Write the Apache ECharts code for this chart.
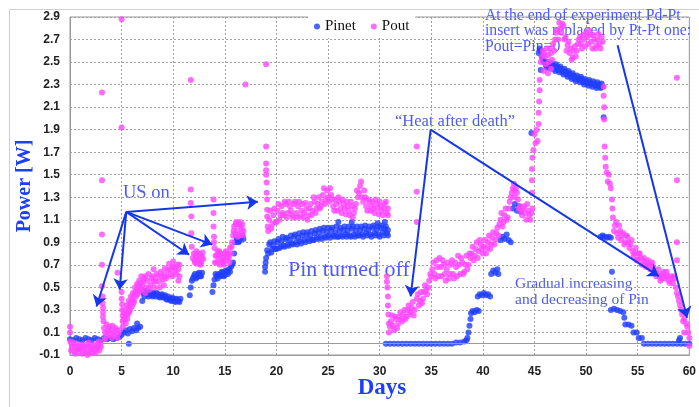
<!DOCTYPE html>
<html><head><meta charset="utf-8">
<script src="https://cdn.jsdelivr.net/npm/echarts@6/dist/echarts.min.js"></script>
<style>html,body{margin:0;padding:0;background:#fff}#c{width:699px;height:407px}</style>
</head><body><div id="c"></div>
<script>
const seriesNames = ['Pinet', 'Pout'];

// Pinet (blue) [day, W]
const pinet = [
 [0,0.04],[0.3,0.03],[0.6,0.05],[0.9,0.04],[1.2,0.03],[1.5,0.05],[1.8,0.04],[2.1,0.03],[2.4,0.05],[2.7,0.04],[3.0,0.03],[3.3,0.05],[3.6,0.04],[3.9,0.05],[4.2,0.04],[4.5,0.05],[4.8,0.06],
 [5.0,0.08],[5.2,0.1],[5.4,0.12],[5.6,0.09],[5.7,0.0],[5.8,0.13],[6.0,0.11],[6.2,0.14],[6.4,0.12],[6.5,0.18],[6.6,0.14],[6.8,0.15],
 [7.0,0.38],[7.1,0.45],[7.3,0.47],[7.5,0.44],[7.7,0.46],[7.9,0.43],[8.1,0.45],[8.3,0.42],[8.5,0.44],[8.7,0.41],[8.9,0.44],[9.1,0.42],[9.3,0.4],[9.5,0.42],[9.7,0.39],[9.9,0.41],[10.1,0.38],[10.3,0.4],[10.5,0.38],[10.7,0.4],
 [11.6,0.43],[11.7,0.5],[11.8,0.56],[12.0,0.6],[12.2,0.58],[12.4,0.62],[12.6,0.6],[12.8,0.63],
 [13.8,0.46],[13.9,0.52],[14.0,0.57],[14.2,0.6],[14.4,0.62],[14.6,0.6],[14.8,0.63],[15.0,0.61],[15.2,0.64],[15.4,0.66],[15.6,0.68],[15.8,0.72],[16.0,0.9],[16.2,0.93],[16.4,0.91],[16.6,0.95],[16.8,0.93],
 [18.9,0.64],[18.9,0.68],[18.95,0.72],[19.0,0.76],
 [19.1,0.83],[19.3,0.88],[19.5,0.81],[19.7,0.87],[19.9,0.84],[20.1,0.9],[20.3,0.85],[20.5,0.91],[20.7,0.87],[20.9,0.93],[21.1,0.88],[21.3,0.92],[21.5,0.89],[21.7,0.95],[21.9,0.9],[22.1,0.94],[22.3,0.91],[22.5,0.96],[22.7,0.92],[22.9,0.97],
 [23.1,0.93],[23.3,0.96],[23.5,0.92],[23.7,0.98],[23.9,0.94],[24.1,0.99],[24.3,0.95],[24.5,1.0],[24.7,0.95],[24.9,0.99],[25.1,0.96],[25.3,1.01],[25.5,0.96],[25.7,0.99],[25.9,0.95],[26.1,1.0],[26.3,0.96],[26.5,1.01],[26.7,0.97],[26.9,1.0],
 [27.1,0.96],[27.3,1.02],[27.5,0.97],[27.7,1.0],[27.9,0.96],[28.1,1.01],[28.3,0.97],[28.5,1.02],[28.7,0.98],[28.9,1.01],[29.1,0.97],[29.3,1.03],[29.5,0.98],[29.7,1.01],[29.9,0.97],[30.1,1.03],[30.3,0.99],[30.5,1.02],[30.7,0.98],[30.8,1.01],
 [26.0,1.08],[27.3,1.08],[29.8,1.07],[30.5,1.08],
 [30.6,0.0],[31.0,0.0],[31.4,0.0],[31.8,0.0],[32.2,0.0],[32.6,0.0],[33.0,0.0],[33.4,0.0],[33.8,0.0],[34.2,0.0],[34.6,0.0],[35.0,0.0],[35.4,0.0],[35.8,0.0],[36.2,0.0],[36.6,0.0],[37.0,0.0],[37.4,0.01],[37.8,0.01],[38.2,0.02],
 [38.4,0.03],[38.5,0.05],[38.6,0.1],[38.7,0.16],[38.8,0.22],[38.85,0.27],
 [39.0,0.29],[39.2,0.28],[39.4,0.3],[39.6,0.29],
 [39.5,0.42],[39.7,0.44],[39.9,0.43],[40.1,0.45],[40.3,0.43],[40.5,0.44],[40.7,0.42],
 [40.8,0.62],[41.0,0.65],[41.2,0.63],[41.4,0.66],[41.5,0.62],
 [41.7,0.92],[41.9,0.95],[42.1,0.93],[42.3,0.97],[42.5,0.92],[42.7,0.9],
 [42.9,1.2],[43.1,1.24],[43.3,1.18],[43.5,1.22],[43.7,1.17],
 [44.7,1.87],
 [45.4,2.58],[45.5,2.62],[45.6,2.6],[45.6,2.43],[45.7,2.55],[45.8,2.52],[45.9,2.5],[46.1,2.47],[46.3,2.5],[46.5,2.45],[46.7,2.49],[46.9,2.44],[47.1,2.48],[47.3,2.43],[47.5,2.46],[47.7,2.41],[47.9,2.44],[48.1,2.39],[48.3,2.42],[48.5,2.37],[48.7,2.4],[48.9,2.35],[49.1,2.38],[49.3,2.34],[49.5,2.37],[49.7,2.32],[49.9,2.35],[50.1,2.31],[50.3,2.34],[50.5,2.3],[50.7,2.33],[50.9,2.29],[51.1,2.32],[51.3,2.28],[51.5,2.31],[51.6,2.28],
 [51.7,2.01],
 [51.4,0.95],[51.6,0.96],[51.8,0.95],[52.0,0.94],[52.2,0.95],[52.4,0.94],
 [52.5,0.64],
 [52.4,0.3],[52.7,0.31],[53.0,0.3],[53.3,0.29],[53.6,0.28],[53.7,0.23],
 [53.8,0.17],[54.1,0.17],[54.4,0.16],
 [54.6,0.1],[54.9,0.1],[55.1,0.05],[55.4,0.05],
 [55.6,0.0],[56.0,0.0],[56.4,0.0],[56.8,0.0],[57.2,0.0],[57.6,0.0],[58.0,0.0],[58.4,0.0],[58.8,0.0],[59.2,0.0],[59.6,0.0],[60.0,0.0],
 [59.0,0.03],[59.1,0.05]
];

// Pinet: more points inside the dense bands
const pinetFill = [
 [7.2,0.42],[7.4,0.46],[7.6,0.42],[7.8,0.45],[8.0,0.42],[8.2,0.44],[8.4,0.45],[8.6,0.42],[8.8,0.43],[9.0,0.41],[9.2,0.43],[9.4,0.39],[9.6,0.4],[9.8,0.38],[10.0,0.4],[10.2,0.37],[10.4,0.39],[10.6,0.37],
 [11.9,0.58],[12.1,0.62],[12.3,0.59],[12.5,0.63],[12.7,0.6],
 [14.1,0.62],[14.3,0.58],[14.5,0.61],[14.7,0.64],[14.9,0.6],[15.1,0.65],[15.3,0.62],[15.5,0.64],[15.7,0.7],[15.9,0.8],[16.1,0.95],[16.3,0.9],[16.5,0.94],[16.7,0.96],
 [19.2,0.8],[19.4,0.9],[19.6,0.84],[19.8,0.91],[20.0,0.84],[20.2,0.93],[20.4,0.86],[20.6,0.95],[20.8,0.86],[21.0,0.94],[21.2,0.87],[21.4,0.96],[21.6,0.88],[21.8,0.97],[22.0,0.88],[22.2,0.98],[22.4,0.89],[22.6,0.99],[22.8,0.9],[23.0,0.99],
 [23.2,0.91],[23.4,1.0],[23.6,0.92],[23.8,1.01],[24.0,0.93],[24.2,1.02],[24.4,0.93],[24.6,1.03],[24.8,0.94],[25.0,1.03],[25.2,0.94],[25.4,1.03],[25.6,0.95],[25.8,1.04],[26.0,0.95],[26.2,1.03],[26.4,0.95],[26.6,1.04],[26.8,0.95],[27.0,1.04],
 [27.2,0.95],[27.4,1.04],[27.6,0.95],[27.8,1.04],[28.0,0.96],[28.2,1.04],[28.4,0.95],[28.6,1.05],[28.8,0.96],[29.0,1.04],[29.2,0.95],[29.4,1.05],[29.6,0.96],[29.8,1.04],[30.0,0.95],[30.2,1.05],[30.4,0.96],[30.6,1.04],[30.8,0.96],
 [46.0,2.5],[46.2,2.45],[46.4,2.48],[46.6,2.44],[46.8,2.47],[47.0,2.42],[47.2,2.46],[47.4,2.41],[47.6,2.44],[47.8,2.39],[48.0,2.42],[48.2,2.37],[48.4,2.4],[48.6,2.35],[48.8,2.38],[49.0,2.33],[49.2,2.36],[49.4,2.32],[49.6,2.35],[49.8,2.3],
 [50.0,2.33],[50.2,2.29],[50.4,2.32],[50.6,2.28],[50.8,2.31],[51.0,2.27],[51.2,2.3],[51.4,2.27]
];

// Pout (magenta) [day, W]
const pout = [
 [0,0.15],[0,0.1],[0.05,0.02],[0.2,-0.03],[0.4,-0.07],[0.6,0.0],[0.8,-0.08],[1.0,-0.04],[1.2,-0.09],[1.4,-0.02],[1.6,-0.06],[1.8,0.01],[2.0,-0.05],[2.2,-0.08],[2.4,-0.01],[2.6,-0.05],[2.8,0.02],[3.0,-0.03],
 [0.3,0.01],[0.7,-0.05],[1.1,-0.01],[1.5,-0.08],[1.9,-0.03],[2.3,-0.06],[2.7,-0.02],
 [3.1,2.23],[3.1,1.45],[3.1,0.97],[3.1,0.7],[3.1,0.51],[3.15,0.42],[3.15,0.36],[3.2,0.32],[3.2,0.28],[3.2,0.24],[3.25,0.2],
 [3.3,0.14],[3.5,0.06],[3.7,0.12],[3.9,0.08],[4.1,0.16],[4.3,0.07],[4.5,0.12],[4.7,0.09],[3.4,0.1],[3.8,0.15],[4.2,0.1],[4.6,0.05],
 [4.6,0.63],[5.0,2.88],[5.0,1.92],[5.0,0.46],[5.0,0.4],[5.05,0.35],[5.05,0.3],[5.1,0.25],[5.1,0.2],[5.1,0.15],
 [5.2,0.22],[5.3,0.3],[5.4,0.18],[5.5,0.34],[5.6,0.26],[5.7,0.38],[5.8,0.3],[5.9,0.42],[6.0,0.33],[6.1,0.45],[6.2,0.38],[6.3,0.5],[6.4,0.42],[6.5,0.53],[6.6,0.46],[6.7,0.56],[6.8,0.48],[6.9,0.6],[7.0,0.52],
 [7.2,0.58],[7.4,0.5],[7.6,0.62],[7.8,0.52],[8.0,0.6],[8.2,0.5],[8.4,0.62],[8.6,0.55],[8.8,0.64],[9.0,0.57],[9.2,0.67],[9.4,0.6],[9.6,0.71],[9.8,0.62],[10.0,0.73],[10.2,0.65],[10.4,0.7],[10.6,0.6],
 [7.3,0.45],[8.1,0.66],[9.1,0.52],[9.9,0.68],[10.5,0.56],
 [11.7,2.34],[11.7,1.37],[11.7,1.25],[11.75,1.13],[11.75,0.98],[11.8,0.86],
 [11.9,0.76],[12.0,0.8],[12.1,0.72],[12.2,0.78],[12.3,0.71],[12.4,0.8],[12.5,0.74],[12.6,0.79],[12.7,0.72],[12.8,0.77],[12.9,0.75],
 [13.9,1.28],[13.9,1.16],[13.9,1.04],[13.95,0.95],[13.95,0.9],
 [14.0,0.85],[14.1,0.78],[14.2,0.72],[14.3,0.82],[14.4,0.76],[14.5,0.7],[14.6,0.8],[14.7,0.73],[14.8,0.78],[14.9,0.7],[15.0,0.76],[15.1,0.82],[15.2,0.74],[15.3,0.8],[15.4,0.76],[15.5,0.85],[15.6,0.8],[15.7,0.9],[15.8,0.96],[15.9,1.04],[16.0,0.98],[16.1,1.08],[16.2,1.0],[16.3,1.06],[16.4,0.96],[16.5,1.04],[16.6,0.98],[16.7,1.06],[16.8,1.0],
 [17.0,2.3],[19.0,2.48],[19.0,1.75],[19.0,1.6],[19.0,1.54],[19.0,1.5],[19.05,1.43],[19.05,1.34],[19.1,1.28],[19.1,1.19],[19.1,1.13],[19.15,1.04],[19.2,1.0],
 [19.3,1.1],[19.5,1.02],[19.7,1.14],[19.9,1.08],[20.1,1.18],[20.3,1.1],[20.5,1.22],[20.7,1.14],[20.9,1.24],[21.1,1.16],[21.3,1.22],[21.5,1.14],[21.7,1.24],[21.9,1.16],[22.1,1.22],[22.3,1.13],[22.5,1.24],[22.7,1.16],[22.9,1.2],[23.1,1.14],
 [23.3,1.24],[23.5,1.18],[23.7,1.26],[23.9,1.2],[24.1,1.3],[24.3,1.22],[24.5,1.32],[24.7,1.24],[24.9,1.36],[25.1,1.26],[25.3,1.32],[25.5,1.22],[25.7,1.28],[25.9,1.18],[26.1,1.26],[26.3,1.16],[26.5,1.24],[26.7,1.15],[26.9,1.22],[27.1,1.14],
 [27.3,1.22],[27.5,1.16],[27.7,1.24],[27.9,1.3],[28.1,1.4],[28.3,1.3],[28.5,1.36],[28.7,1.22],[28.9,1.28],[29.1,1.18],[29.3,1.26],[29.5,1.16],[29.7,1.24],[29.9,1.15],[30.1,1.22],[30.3,1.14],[30.5,1.24],[30.7,1.16],[30.8,1.2],
 [30.7,0.6],[30.7,0.55],[30.75,0.5],[30.8,0.42],[30.8,0.34],[30.85,0.26],[30.9,0.18],[30.9,0.1],
 [31.0,0.15],[31.2,0.25],[31.4,0.12],[31.6,0.22],[31.8,0.18],[32.0,0.28],[32.2,0.2],[32.4,0.3],[32.6,0.24],[32.8,0.34],[33.0,0.28],[33.2,0.37],[33.4,0.3],
 [33.6,1.75],[33.6,1.35],[33.6,1.08],
 [33.6,0.4],[33.8,0.34],[34.0,0.46],[34.2,0.4],[34.4,0.52],[34.6,0.44],[34.8,0.56],
 [35.0,0.6],[35.2,0.72],[35.4,0.58],[35.6,0.68],[35.8,0.76],[36.0,0.6],[36.2,0.7],[36.4,0.56],[36.6,0.72],[36.8,0.62],[37.0,0.74],[37.2,0.58],[37.4,0.68],[37.6,0.78],[37.8,0.62],[38.0,0.72],[38.2,0.64],[38.4,0.78],[38.6,0.7],
 [38.8,0.76],[39.0,0.86],[39.2,0.78],[39.4,0.9],[39.6,0.82],[39.8,0.88],[40.0,0.8],[40.2,0.92],[40.4,0.85],[40.6,0.96],[40.8,0.88],[41.0,0.99],[41.2,0.92],[41.4,1.03],
 [41.6,1.06],[41.8,1.16],[42.0,1.08],[42.2,1.2],[42.4,1.12],[42.6,1.26],
 [42.8,1.34],[43.0,1.42],[43.1,1.3],[43.2,1.38],[43.4,1.28],[43.6,1.22],
 [43.8,1.14],[44.0,1.22],[44.2,1.1],[44.4,1.18],[44.6,1.1],[44.8,1.2],
 [44.75,1.34],[44.75,1.45],[44.75,1.55],[44.8,1.65],[44.9,1.72],[45.0,1.86],[45.1,1.78],[45.2,1.9],[45.3,1.8],[45.4,1.95],[45.4,2.05],[45.45,2.15],[45.5,2.25],[45.5,2.34],
 [45.6,2.5],[45.8,2.6],[46.0,2.55],[46.2,2.62],[46.4,2.5],[46.6,2.58],[46.8,2.66],[47.0,2.7],[47.2,2.78],[47.4,2.85],[47.6,2.76],[47.8,2.82],[48.0,2.72],[48.2,2.65],[48.4,2.58],[48.6,2.52],[48.8,2.6],[49.0,2.55],[49.2,2.66],[49.4,2.72],
 [49.6,2.62],[49.8,2.7],[50.0,2.76],[50.2,2.66],[50.4,2.74],[50.6,2.62],[50.8,2.7],[51.0,2.65],[51.2,2.75],[51.4,2.62],[51.6,2.68],
 [45.9,2.42],[46.3,2.4],[46.6,2.44],
 [51.7,2.28],[51.7,2.2],[51.75,2.1],[51.75,1.99],[51.8,1.75],[51.85,1.65],[51.9,1.57],[52.0,1.52],[52.1,1.44],[52.2,1.5],[52.3,1.42],[52.4,1.38],[52.5,1.28],[52.55,1.2],[52.6,1.12],
 [52.8,1.05],[53.0,0.98],[53.2,1.05],[53.4,0.92],[53.6,0.98],[53.8,0.9],[54.0,0.95],[54.2,0.85],[54.4,0.92],
 [54.6,0.78],[54.8,0.85],[55.0,0.75],[55.2,0.8],[55.4,0.7],[55.6,0.76],[55.8,0.68],[56.0,0.74],[56.2,0.66],[56.4,0.72],[56.6,0.64],
 [56.8,0.6],[57.0,0.66],[57.2,0.56],[57.4,0.62],[57.6,0.58],[57.8,0.64],[58.0,0.56],[58.2,0.6],[58.4,0.54],[58.6,0.58],
 [58.8,0.45],[59.0,0.38],[59.2,0.3],[59.4,0.2],[59.5,0.1],[59.6,0.28],[59.8,0.15],[60.0,0.05],[60.0,-0.02],
 [58.8,2.36],[58.8,1.45],[58.8,0.9],[58.8,0.74]
];

// Pout: more points inside the dense bands
const poutFill = [
 [0.1,-0.06],[0.5,-0.09],[0.9,-0.02],[1.3,-0.06],[1.7,-0.1],[2.1,-0.02],[2.5,-0.08],[2.9,0.0],[0.15,0.0],[0.45,-0.02],[0.85,-0.05],[1.25,-0.03],[1.65,-0.01],[2.05,-0.08],[2.45,-0.04],[2.85,-0.06],
 [3.35,0.04],[3.6,0.1],[4.0,0.12],[4.4,0.14],[4.8,0.12],[3.55,0.17],[4.05,0.05],
 [5.25,0.27],[5.35,0.22],[5.45,0.26],[5.55,0.22],[5.65,0.32],[5.75,0.28],[5.85,0.36],[5.95,0.37],[6.05,0.4],[6.15,0.36],[6.25,0.44],[6.35,0.45],[6.45,0.48],[6.55,0.44],[6.65,0.52],[6.75,0.5],[6.85,0.54],[6.95,0.48],
 [7.1,0.55],[7.3,0.6],[7.5,0.56],[7.7,0.48],[7.9,0.58],[8.1,0.55],[8.3,0.56],[8.5,0.6],[8.7,0.5],[8.9,0.6],[9.1,0.62],[9.3,0.58],[9.5,0.65],[9.7,0.66],[9.9,0.6],[10.1,0.68],[10.3,0.62],[10.5,0.66],[10.6,0.7],
 [12.05,0.74],[12.25,0.82],[12.45,0.75],[12.65,0.7],[12.85,0.81],
 [14.05,0.72],[14.25,0.78],[14.45,0.82],[14.65,0.74],[14.85,0.72],[15.05,0.8],[15.25,0.78],[15.45,0.72],[15.65,0.86],[15.85,1.0],[16.05,1.06],[16.25,0.95],[16.45,1.08],[16.65,1.02],[16.75,0.96],
 [19.4,1.18],[19.6,1.06],[19.8,1.2],[20.0,1.08],[20.2,1.24],[20.4,1.14],[20.6,1.16],[20.8,1.26],[21.0,1.12],[21.2,1.26],[21.4,1.18],[21.6,1.12],[21.8,1.26],[22.0,1.12],[22.2,1.26],[22.4,1.18],[22.6,1.12],[22.8,1.25],[23.0,1.1],[23.2,1.2],
 [23.4,1.14],[23.6,1.3],[23.8,1.16],[24.0,1.24],[24.2,1.2],[24.4,1.26],[24.6,1.38],[24.8,1.28],[25.0,1.3],[25.2,1.38],[25.4,1.28],[25.6,1.18],[25.8,1.24],[26.0,1.3],[26.2,1.2],[26.4,1.28],[26.6,1.2],[26.8,1.26],[27.0,1.18],[27.2,1.26],
 [27.4,1.12],[27.6,1.2],[27.8,1.36],[28.0,1.34],[28.2,1.44],[28.4,1.26],[28.6,1.3],[28.8,1.18],[29.0,1.26],[29.2,1.22],[29.4,1.2],[29.6,1.28],[29.8,1.2],[30.0,1.26],[30.2,1.18],[30.4,1.2],[30.6,1.26],[30.8,1.14],
 [31.1,0.2],[31.3,0.16],[31.5,0.24],[31.7,0.14],[31.9,0.24],[32.1,0.22],[32.3,0.26],[32.5,0.22],[32.7,0.3],[32.9,0.26],[33.1,0.32],[33.3,0.25],
 [33.7,0.44],[33.9,0.38],[34.1,0.36],[34.3,0.46],[34.5,0.48],[34.7,0.5],[34.9,0.62],
 [35.1,0.66],[35.3,0.62],[35.5,0.74],[35.7,0.6],[35.9,0.68],[36.1,0.74],[36.3,0.62],[36.5,0.66],[36.7,0.58],[36.9,0.7],[37.1,0.62],[37.3,0.72],[37.5,0.6],[37.7,0.7],[37.9,0.76],[38.1,0.62],[38.3,0.7],[38.5,0.66],[38.7,0.8],
 [38.9,0.8],[39.1,0.74],[39.3,0.84],[39.5,0.76],[39.7,0.92],[39.9,0.84],[40.1,0.86],[40.3,0.8],[40.5,0.9],[40.7,0.84],[40.9,0.94],[41.1,0.88],[41.3,0.98],[41.5,0.96],
 [41.7,1.1],[41.9,1.04],[42.1,1.14],[42.3,1.1],[42.5,1.2],[42.7,1.3],[42.9,1.38],[43.05,1.36],[43.3,1.34],[43.5,1.2],[43.7,1.18],[43.9,1.2],[44.1,1.16],[44.3,1.24],[44.5,1.14],[44.7,1.16],
 [45.7,2.55],[45.9,2.58],[46.1,2.48],[46.3,2.56],[46.5,2.62],[46.7,2.52],[46.9,2.6],[47.1,2.76],[47.3,2.7],[47.5,2.8],[47.7,2.84],[47.9,2.7],[48.1,2.6],[48.3,2.68],[48.5,2.62],[48.7,2.54],[48.9,2.64],[49.1,2.6],[49.3,2.7],[49.5,2.66],
 [49.7,2.74],[49.9,2.64],[50.1,2.72],[50.3,2.78],[50.5,2.68],[50.7,2.74],[50.9,2.62],[51.1,2.7],[51.3,2.66],[51.5,2.72],
 [52.7,1.0],[52.9,1.08],[53.1,0.94],[53.3,1.0],[53.5,0.96],[53.7,0.88],[53.9,0.96],[54.1,0.9],[54.3,0.88],[54.5,0.82],[54.7,0.8],[54.9,0.74],[55.1,0.8],[55.3,0.76],[55.5,0.74],[55.7,0.7],[55.9,0.72],[56.1,0.7],[56.3,0.7],[56.5,0.68],
 [56.7,0.62],[56.9,0.62],[57.1,0.6],[57.3,0.58],[57.5,0.64],[57.7,0.6],[57.9,0.6],[58.1,0.54],[58.3,0.58],[58.5,0.6],[58.7,0.5],
 [58.9,0.42],[59.1,0.34],[59.3,0.26],[59.5,0.22],[59.7,0.18],[59.9,0.1]
];

// annotation arrows [from, to] in data coordinates
const arrows = [
 [[5.45,1.17],[2.57,0.33]],
 [[5.45,1.17],[4.81,0.48]],
 [[5.45,1.17],[11.54,0.79]],
 [[5.45,1.17],[13.78,0.88]],
 [[5.45,1.17],[18.2,1.26]],
 [[34.94,1.9],[33.0,0.42]],
 [[34.94,1.9],[57.05,0.6]],
 [[53.05,2.65],[59.78,0.23]]
];

const SERIF = '"Liberation Serif", "DejaVu Serif", serif';
const ANN = '#4d5cf0';
const chart = echarts.init(document.getElementById('c'));
chart.setOption({
  animation: false,
  backgroundColor: '#fff',
  grid: { left: 70, right: 5, top: 17, bottom: 52, show: true, borderColor: '#9a9a9a', borderWidth: 1 },
  legend: {
    data: seriesNames, left: 308, top: 15, icon: 'circle', itemWidth: 6, itemHeight: 6, itemGap: 15,
    backgroundColor: '#fff', padding: [4, 6],
    textStyle: { fontFamily: SERIF, fontSize: 15, color: '#111' }
  },
  xAxis: {
    type: 'value', min: 0, max: 60, interval: 5,
    axisLine: { onZero: false, lineStyle: { color: '#9a9a9a' } },
    axisTick: { show: false },
    axisLabel: { fontFamily: '"Liberation Sans", Arial, sans-serif', fontWeight: 'bold', fontSize: 12, color: '#222', margin: 11 },
    splitLine: { show: true, lineStyle: { color: '#a0a0a0', type: [2, 2] } }
  },
  yAxis: {
    type: 'value', min: -0.1, max: 2.9, interval: 0.2,
    axisLine: { show: true, lineStyle: { color: '#9a9a9a' } },
    axisTick: { show: false },
    axisLabel: { fontFamily: '"Liberation Sans", Arial, sans-serif', fontWeight: 'bold', fontSize: 12, color: '#222', margin: 10,
      formatter: v => v.toFixed(1) },
    splitLine: { show: true, lineStyle: { color: '#a0a0a0', type: [2, 2] } }
  },
  series: [
    { name: 'zero', type: 'scatter', data: [], silent: true, z: 1,
      markLine: { silent: true, symbol: 'none', label: { show: false }, lineStyle: { color: '#9a9a9a', type: 'solid', width: 1 },
        data: [{ yAxis: 0 }] } },
    { name: seriesNames[0], type: 'scatter', data: pinet.concat(pinetFill), symbolSize: 6, itemStyle: { color: '#1f3dff' }, z: 2 },
    { name: seriesNames[1], type: 'scatter', data: pout.concat(poutFill), symbolSize: 6, itemStyle: { color: '#ff45ff' }, z: 3 },
    { name: 'arrows', type: 'scatter', data: [], silent: true, z: 5,
      markLine: { silent: true, symbol: ['none', 'arrow'], symbolSize: 11, label: { show: false },
        lineStyle: { color: '#1636ec', type: 'solid', width: 2 },
        data: arrows.map(a => [{ coord: a[0] }, { coord: a[1] }]) } }
  ],
  graphic: [
    { type: 'rect', shape: { x: 9.5, y: 9.5, width: 720, height: 420 }, style: { fill: 'none', stroke: '#cfcfcf', lineWidth: 1 }, silent: true },
    { type: 'text', x: 25, y: 186, rotation: Math.PI / 2, style: { text: 'Power [W]', font: 'bold 20px ' + SERIF, fill: '#1f3dff', align: 'center', verticalAlign: 'middle' } },
    { type: 'text', x: 382, y: 388, style: { text: 'Days', font: 'bold 23px ' + SERIF, fill: '#1f3dff', align: 'center', verticalAlign: 'middle' } },
    { type: 'text', x: 123, y: 193, style: { text: 'US on', font: '18.5px ' + SERIF, fill: ANN, align: 'left', verticalAlign: 'middle' } },
    { type: 'text', x: 288, y: 270, style: { text: 'Pin turned off', font: '22px ' + SERIF, fill: ANN, align: 'left', verticalAlign: 'middle' } },
    { type: 'text', x: 395, y: 122, style: { text: '\u201cHeat after death\u201d', font: '16.5px ' + SERIF, fill: ANN, align: 'left', verticalAlign: 'middle' } },
    { type: 'text', x: 485, y: 8, style: { text: 'At the end of experiment Pd-Pt\ninsert was replaced by Pt-Pt one:\nPout=Pin=0', font: '15.7px ' + SERIF, lineHeight: 15.5, fill: ANN, align: 'left', verticalAlign: 'top' } },
    { type: 'text', x: 515, y: 276, style: { text: 'Gradual increasing\nand decreasing of Pin', font: '15.5px ' + SERIF, lineHeight: 16, fill: ANN, align: 'left', verticalAlign: 'top' } }
  ]
});
</script></body></html>
